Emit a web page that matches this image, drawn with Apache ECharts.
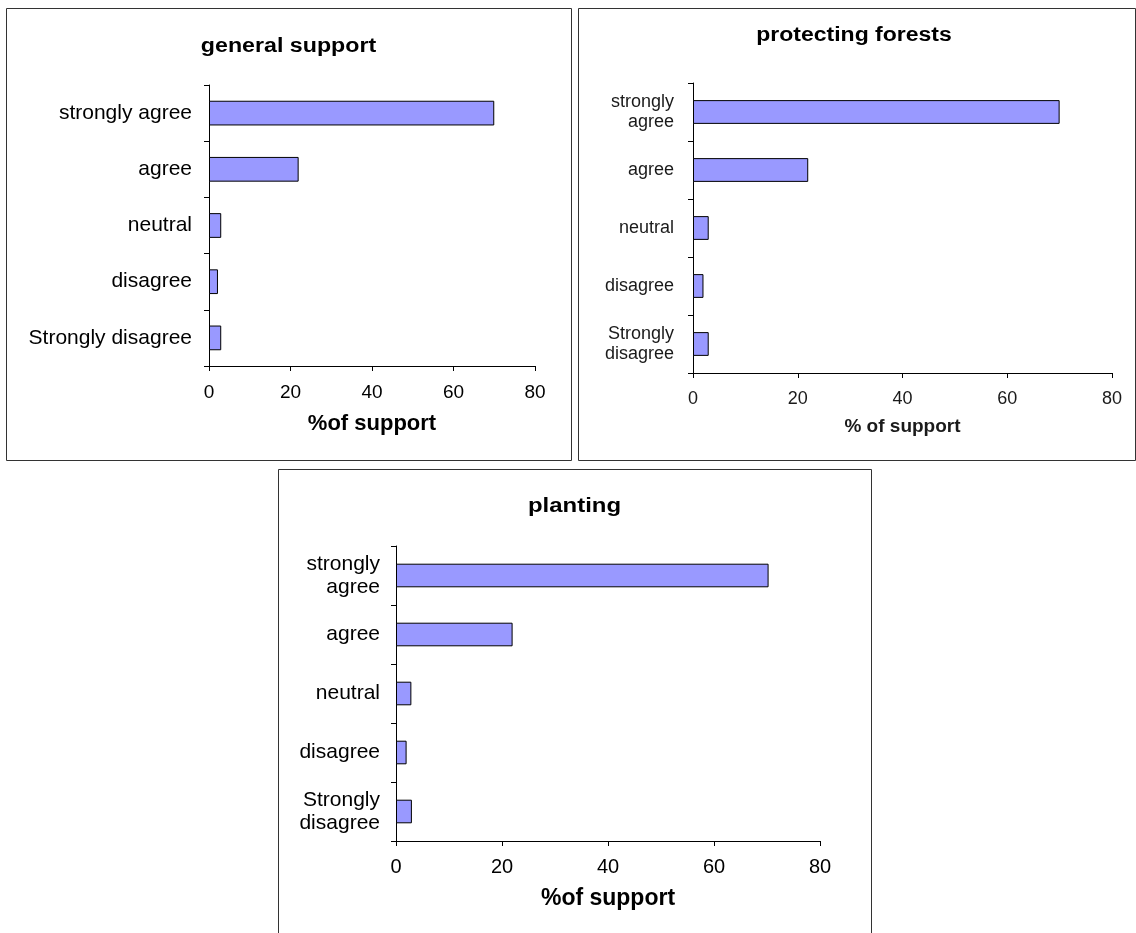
<!DOCTYPE html>
<html>
<head>
<meta charset="utf-8">
<script src="https://cdn.jsdelivr.net/npm/echarts@6/dist/echarts.min.js"></script>
<style>
html,body{margin:0;padding:0;background:#fff;}
#c{width:1136px;height:933px;}
</style>
</head>
<body>
<div id="c"></div>
<script>
// Data
const titles = ['general support', 'protecting forests', 'planting'];
const categories1 = ['strongly agree', 'agree', 'neutral', 'disagree', 'Strongly disagree'];
const categories2 = ['strongly\nagree', 'agree', 'neutral', 'disagree', 'Strongly\ndisagree'];
const categories3 = ['strongly\nagree', 'agree', 'neutral', 'disagree', 'Strongly\ndisagree'];
const generalSupport = [70, 22, 3, 2.2, 3];
const protectingForests = [70, 22, 3, 2, 3];
const planting = [70.3, 22, 2.9, 2, 3];
const axisNames = ['%of support', '% of support', '%of support'];
const xTicks = [0, 20, 40, 60, 80];

const chart = echarts.init(document.getElementById('c'));
const FONT = '"Liberation Sans", Arial, sans-serif';

const grids = [
  {left: 209, top: 85, width: 326, height: 281},
  {left: 693, top: 83, width: 419, height: 290},
  {left: 396, top: 546, width: 424, height: 295}
];
const labelStyles = [
  {fontSize: 21, tick: 19, name: 22, color: '#000', lineHeight: 22, margin: 17, tickMargin: 17, nameGap: 47, barWidth: '44%'},
  {fontSize: 18, tick: 18, name: 19, color: '#1a1a1a', lineHeight: 20, margin: 19, tickMargin: 17, nameGap: 44, barWidth: '41%'},
  {fontSize: 21, tick: 20, name: 23, color: '#000', lineHeight: 23, margin: 16, tickMargin: 16, nameGap: 46, barWidth: '40%'}
];
const cats = [categories1, categories2, categories3];
const vals = [generalSupport, protectingForests, planting];

const xAxes = grids.map((g, i) => ({
  type: 'value', gridIndex: i, min: 0, max: 80, interval: 20,
  name: axisNames[i], nameLocation: 'middle', nameGap: labelStyles[i].nameGap,
  nameTextStyle: {fontFamily: FONT, fontWeight: 'bold', fontSize: labelStyles[i].name, color: labelStyles[i].color},
  axisLine: {show: true, lineStyle: {color: '#000', width: 1}},
  axisTick: {show: true, length: 5, lineStyle: {color: '#000'}},
  axisLabel: {fontFamily: FONT, fontSize: labelStyles[i].tick, color: labelStyles[i].color, margin: labelStyles[i].tickMargin,
    formatter: v => xTicks.includes(v) ? String(v) : ''},
  splitLine: {show: false}
}));
const yAxes = grids.map((g, i) => ({
  type: 'category', gridIndex: i, data: cats[i], inverse: true,
  axisLine: {show: true, lineStyle: {color: '#000', width: 1}},
  axisTick: {show: true, length: 5, alignWithLabel: false, lineStyle: {color: '#000'}},
  axisLabel: {fontFamily: FONT, fontSize: labelStyles[i].fontSize, color: labelStyles[i].color,
    lineHeight: labelStyles[i].lineHeight, margin: labelStyles[i].margin, align: 'right'},
  splitLine: {show: false}
}));
const series = vals.map((v, i) => ({
  type: 'bar', xAxisIndex: i, yAxisIndex: i, data: v, barWidth: labelStyles[i].barWidth,
  itemStyle: {color: '#9999ff', borderColor: '#000', borderWidth: 1},
  silent: true
}));

// title anchor: [centerX, centerY, fontSize, scaleX]
const titlePos = [[288.5, 46, 20, 1.16], [854, 35, 20, 1.15], [574.5, 506, 21, 1.14]];
const graphics = [
  {type: 'rect', shape: {x: 6.5, y: 8.5, width: 565, height: 452}, style: {fill: 'none', stroke: '#333', lineWidth: 1}},
  {type: 'rect', shape: {x: 578.5, y: 8.5, width: 557, height: 452}, style: {fill: 'none', stroke: '#333', lineWidth: 1}},
  {type: 'rect', shape: {x: 278.5, y: 469.5, width: 593, height: 470}, style: {fill: 'none', stroke: '#333', lineWidth: 1}}
].concat(titles.map((t, i) => ({
  type: 'text', x: titlePos[i][0], y: titlePos[i][1], scaleX: titlePos[i][3],
  style: {text: t, align: 'center', verticalAlign: 'middle', fontFamily: FONT, fontWeight: 'bold', fontSize: titlePos[i][2], fill: '#000'}
})));

chart.setOption({
  animation: false,
  backgroundColor: '#fff',
  grid: grids,
  xAxis: xAxes,
  yAxis: yAxes,
  series: series,
  graphic: graphics
});
</script>
</body>
</html>
